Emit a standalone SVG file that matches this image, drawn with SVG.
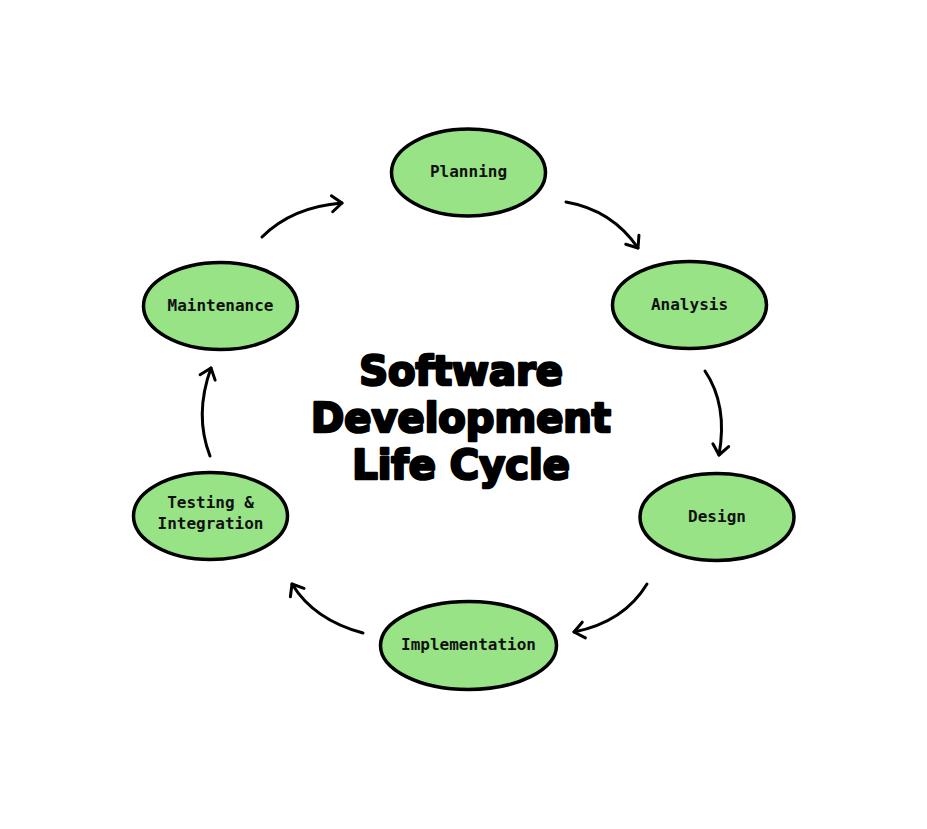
<svg xmlns="http://www.w3.org/2000/svg" width="927" height="829" viewBox="0 0 927 829">
<style>
.node ellipse{fill:#97e386;stroke:#000;stroke-width:3.5}
.node text{font-family:"DejaVu Sans Mono",monospace;font-weight:bold;font-size:16px;fill:#111;text-anchor:middle}
.conn path{fill:none;stroke:#000;stroke-width:3;stroke-linecap:round;stroke-linejoin:round}
.title{font-family:"DejaVu Sans",sans-serif;font-weight:900;font-size:40px;fill:#000;stroke:#000;stroke-width:2.6;stroke-linejoin:round;text-anchor:middle}
</style>
<defs>
<marker id="ah" viewBox="0 0 20 20" refX="14" refY="10" markerWidth="20" markerHeight="20" markerUnits="userSpaceOnUse" orient="auto">
<path d="M4,2 L14,10 L4,18" fill="none" stroke="#000" stroke-width="3" stroke-linecap="round" stroke-linejoin="round"/>
</marker>
</defs>
<rect width="927" height="829" fill="#fff"/>
<g id="connectors" class="conn">
<path d="M566,202 Q612,210 638,248" marker-end="url(#ah)"/>
<path d="M705,371 Q728,405 719,455" marker-end="url(#ah)"/>
<path d="M647,584 Q624,622 574,632" marker-end="url(#ah)"/>
<path d="M363,633 Q314,620 292,584" marker-end="url(#ah)"/>
<path d="M210,456 Q194,415 211,368" marker-end="url(#ah)"/>
<path d="M262,237 Q292,207 342,203" marker-end="url(#ah)"/>
</g>
<g id="title">
<text class="title"><tspan x="461" y="385">Software</tspan><tspan x="461" y="432">Development</tspan><tspan x="461" y="479">Life Cycle</tspan></text>
</g>
<g id="planning" class="node"><ellipse cx="468.5" cy="172.5" rx="77" ry="43.5"/><text x="468.5" y="177">Planning</text></g>
<g id="analysis" class="node"><ellipse cx="689.5" cy="305" rx="77" ry="43.5"/><text x="689.5" y="309.5">Analysis</text></g>
<g id="design" class="node"><ellipse cx="717" cy="517" rx="77" ry="43.5"/><text x="717" y="521.5">Design</text></g>
<g id="implementation" class="node"><ellipse cx="468.5" cy="645.5" rx="88" ry="44"/><text x="468.5" y="650">Implementation</text></g>
<g id="testing" class="node"><ellipse cx="210.5" cy="516" rx="77" ry="43.5"/><text x="210.5" y="508">Testing &amp;</text><text x="210.5" y="529">Integration</text></g>
<g id="maintenance" class="node"><ellipse cx="220.5" cy="306" rx="77" ry="43.5"/><text x="220.5" y="310.5">Maintenance</text></g>
</svg>
